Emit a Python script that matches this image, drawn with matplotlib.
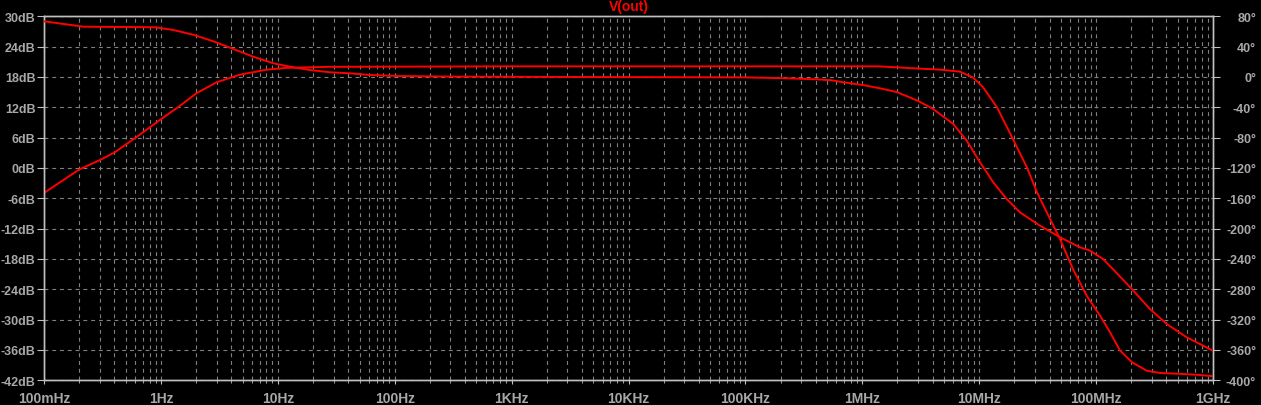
import matplotlib
matplotlib.use("Agg")
import matplotlib.pyplot as plt
from matplotlib.ticker import FixedLocator, NullFormatter, LogLocator

# ---- data ----
mag_freq = [0.1, 0.2, 0.303, 0.403, 0.617, 0.982, 1.455, 2.02, 3.0, 4.74, 8.04, 11.9, 26.9,
            1e3, 1.36e6, 2.0e6, 2.82e6, 4.62e6, 6.86e6, 8.85e6, 1.077e7, 1.42e7, 1.945e7,
            2.56e7, 3.12e7, 4.04e7, 4.91e7, 6.34e7, 8.32e7, 1.08e8, 1.315e8, 1.6e8,
            2.02e8, 2.71e8, 3.52e8, 5.53e8, 7.74e8, 1e9]
mag_db = [-4.95, -0.3, 1.6, 3.1, 6.1, 9.5, 12.3, 14.8, 16.95, 18.45, 19.44, 19.8, 20.0,
          20.1, 20.1, 19.9, 19.7, 19.45, 19.05, 17.9, 16.0, 12.0, 5.7,
          0.1, -4.8, -10.1, -14.05, -20.0, -25.3, -29.2, -32.5, -36.1,
          -38.4, -40.1, -40.55, -40.75, -40.95, -41.2]

ph_freq = [0.1, 0.217, 0.891, 1.276, 1.89, 2.81, 4.16, 6.17, 9.16, 12.3, 18.8, 28.0, 41.5,
           61.5, 111, 300, 3000, 1e5, 2.27e5, 4.09e5, 5.5e5, 6.84e5, 1.01e6, 1.42e6,
           1.98e6, 2.94e6, 4.03e6, 4.62e6, 6.0e6, 7.82e6, 1.016e7, 1.32e7, 1.72e7,
           2.23e7, 3.31e7, 4.91e7, 7.28e7, 8.87e7, 1.146e8, 1.393e8, 2.02e8, 2.89e8,
           4.02e8, 5.96e8, 1e9]
ph_deg = [73.4, 66.3, 65.5, 62.0, 55.7, 47.0, 36.9, 26.7, 18.0, 14.0, 9.2, 6.2, 4.8,
          2.6, 1.2, 0.5, 0.0, -0.5, -1.8, -3.1, -4.4, -7.0, -10.6, -15.0,
          -20.0, -31.0, -42.0, -49.0, -62.0, -84.0, -112.5, -139.0, -161.0,
          -178.5, -196.0, -211.4, -224.6, -229.0, -240.0, -253.4, -279.6, -306.0,
          -325.8, -343.3, -361.0]

x_ticks = [0.1, 1, 10, 100, 1e3, 1e4, 1e5, 1e6, 1e7, 1e8, 1e9]
x_labels = ["100mHz", "1Hz", "10Hz", "100Hz", "1KHz", "10KHz", "100KHz", "1MHz",
            "10MHz", "100MHz", "1GHz"]
db_ticks = list(range(30, -43, -6))
db_labels = [f"{v}dB" for v in db_ticks]
deg_ticks = list(range(80, -401, -40))
deg_labels = [f"{v}\u00b0" for v in deg_ticks]
title = "V(out)"

# ---- style ----
BG = "black"
AXC = "#c0c0c0"
TXT = "#a8a8a8"
GRID = "#808080"
RED = "#ff0000"
XFONT = dict(family="Liberation Sans", weight="bold", size=10)
YFONT = dict(family="Liberation Sans", weight="bold", size=9)

fig = plt.figure(figsize=(12.61, 4.06), dpi=100, facecolor=BG)
ax = fig.add_axes([44 / 1261, 1 - 381.3 / 406, (1213 - 44) / 1261, (381.3 - 17.3) / 406])
ax.set_facecolor(BG)
ax.set_xscale("log")
ax.set_xlim(0.1, 1e9)
ax.set_ylim(-42, 30)

ax2 = ax.twinx()
ax2.set_ylim(-400, 80)

for a in (ax, ax2):
    for s in a.spines.values():
        s.set_color(AXC)
        s.set_linewidth(1.0)

ax.xaxis.set_major_locator(FixedLocator(x_ticks))
ax.set_xticklabels(x_labels, color=TXT, **XFONT)
ax.xaxis.set_minor_locator(LogLocator(base=10, subs=range(2, 10), numticks=100))
ax.xaxis.set_minor_formatter(NullFormatter())
ax.tick_params(axis="x", which="major", length=3, color=AXC, pad=5)
ax.tick_params(axis="x", which="minor", length=2, color=AXC)

ax.set_yticks(db_ticks)
ax.set_yticklabels(db_labels, color=TXT, **YFONT)
ax.tick_params(axis="y", length=5, color=AXC, pad=1.2)

ax2.set_yticks(deg_ticks)
ax2.set_yticklabels(deg_labels, color=TXT, **YFONT)
ax2.tick_params(axis="y", length=5, color=AXC, pad=26)
for lab in ax2.get_yticklabels():
    lab.set_horizontalalignment("right")

ax.grid(True, which="both", axis="x", color=GRID, linestyle=(0, (3.5, 3.5)), linewidth=0.8)
ax.grid(True, which="major", axis="y", color=GRID, linestyle=(0, (3.5, 3.5)), linewidth=0.8)
ax.set_axisbelow(True)

ax.plot(mag_freq, mag_db, color=RED, linewidth=1.4, zorder=5)
ax2.plot(ph_freq, ph_deg, color=RED, linewidth=1.4, zorder=5)

fig.text((44 + 1213) / 2 / 1261, 1 - 7.5 / 406, title, color=RED, ha="center", va="center",
         **XFONT)

fig.savefig("out.png", dpi=100, facecolor=BG)
